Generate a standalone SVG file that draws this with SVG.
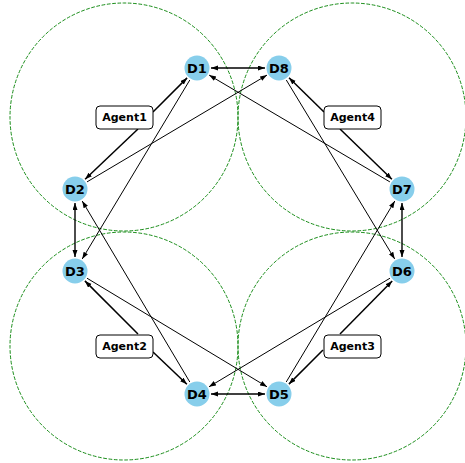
<svg xmlns="http://www.w3.org/2000/svg" width="465" height="463" viewBox="0 0 465 463">
<defs>
<style>
.zone{fill:none;stroke:#008000;stroke-width:0.9;stroke-dasharray:3.7,1.6}
.node circle{fill:#87CEEB}
.node text{font-family:"DejaVu Sans",sans-serif;font-weight:bold;font-size:13px;fill:#000;text-anchor:middle;dominant-baseline:central}
.agent rect{fill:#fff;stroke:#000;stroke-width:1}
.agent text{font-family:"DejaVu Sans",sans-serif;font-weight:bold;font-size:11px;fill:#000;text-anchor:middle;dominant-baseline:central}
.e{stroke:#000;stroke-width:1;fill:none;marker-end:url(#ah)}
.bi{stroke:#000;stroke-width:1.4;fill:none;marker-end:url(#ah);marker-start:url(#ahs)}
.ag{stroke:#000;stroke-width:1.5;fill:none;marker-end:url(#ah)}
</style>
<marker id="ah" markerUnits="userSpaceOnUse" markerWidth="8" markerHeight="6" refX="7" refY="2.5" orient="auto"><path d="M0,0 L7,2.5 L0,5 z" fill="#000"/></marker>
<marker id="ahs" markerUnits="userSpaceOnUse" markerWidth="8" markerHeight="6" refX="7" refY="2.5" orient="auto-start-reverse"><path d="M0,0 L7,2.5 L0,5 z" fill="#000"/></marker>
</defs>
<rect width="465" height="463" fill="#fff"/>
<g id="zones">
<circle class="zone" cx="124" cy="117" r="114"/>
<circle class="zone" cx="352" cy="117" r="114"/>
<circle class="zone" cx="124" cy="346" r="114"/>
<circle class="zone" cx="352" cy="346" r="114"/>
</g>
<g id="connectors">
<line class="bi" x1="211" y1="68" x2="265" y2="68"/>
<line class="bi" x1="75" y1="203" x2="75" y2="257"/>
<line class="bi" x1="402" y1="203" x2="402" y2="257"/>
<line class="bi" x1="211" y1="394" x2="265" y2="394"/>
<line class="e" x1="189.8" y1="80" x2="82.2" y2="259"/>
<line class="e" x1="87" y1="181.9" x2="267" y2="75.1"/>
<line class="e" x1="389.9" y1="181.9" x2="209.1" y2="75.1"/>
<line class="e" x1="286.3" y1="80" x2="394.7" y2="259"/>
<line class="e" x1="286.2" y1="382" x2="394.8" y2="201"/>
<line class="e" x1="390" y1="278.2" x2="209" y2="386.8"/>
<line class="e" x1="87" y1="278.2" x2="267" y2="386.8"/>
<line class="e" x1="189.8" y1="382" x2="82.2" y2="201"/>
<line class="ag" x1="153" y1="112" x2="187.1" y2="77.9"/>
<line class="ag" x1="138" y1="129" x2="85.1" y2="179.3"/>
<line class="ag" x1="138" y1="334" x2="84.9" y2="280.9"/>
<line class="ag" x1="153" y1="352" x2="186.9" y2="384.3"/>
<line class="ag" x1="323" y1="350" x2="288.9" y2="384.1"/>
<line class="ag" x1="340" y1="334" x2="392.2" y2="281"/>
<line class="ag" x1="324" y1="112" x2="289" y2="77.8"/>
<line class="ag" x1="340" y1="129" x2="391.9" y2="179.3"/>
</g>
<g id="Agent1" class="agent"><rect x="96" y="106" width="57" height="23" rx="4"/><text x="124.5" y="117.5">Agent1</text></g>
<g id="Agent2" class="agent"><rect x="96" y="335" width="57" height="23" rx="4"/><text x="124.5" y="346.5">Agent2</text></g>
<g id="Agent3" class="agent"><rect x="324" y="335" width="57" height="23" rx="4"/><text x="352.5" y="346.5">Agent3</text></g>
<g id="Agent4" class="agent"><rect x="324" y="106" width="57" height="23" rx="4"/><text x="352.5" y="117.5">Agent4</text></g>
<g id="D1" class="node"><circle cx="197" cy="68" r="12.5"/><text x="197" y="68">D1</text></g>
<g id="D8" class="node"><circle cx="279" cy="68" r="12.5"/><text x="279" y="68">D8</text></g>
<g id="D2" class="node"><circle cx="75" cy="189" r="12.5"/><text x="75" y="189">D2</text></g>
<g id="D7" class="node"><circle cx="402" cy="189" r="12.5"/><text x="402" y="189">D7</text></g>
<g id="D3" class="node"><circle cx="75" cy="271" r="12.5"/><text x="75" y="271">D3</text></g>
<g id="D6" class="node"><circle cx="402" cy="271" r="12.5"/><text x="402" y="271">D6</text></g>
<g id="D4" class="node"><circle cx="197" cy="394" r="12.5"/><text x="197" y="394">D4</text></g>
<g id="D5" class="node"><circle cx="279" cy="394" r="12.5"/><text x="279" y="394">D5</text></g>
</svg>
